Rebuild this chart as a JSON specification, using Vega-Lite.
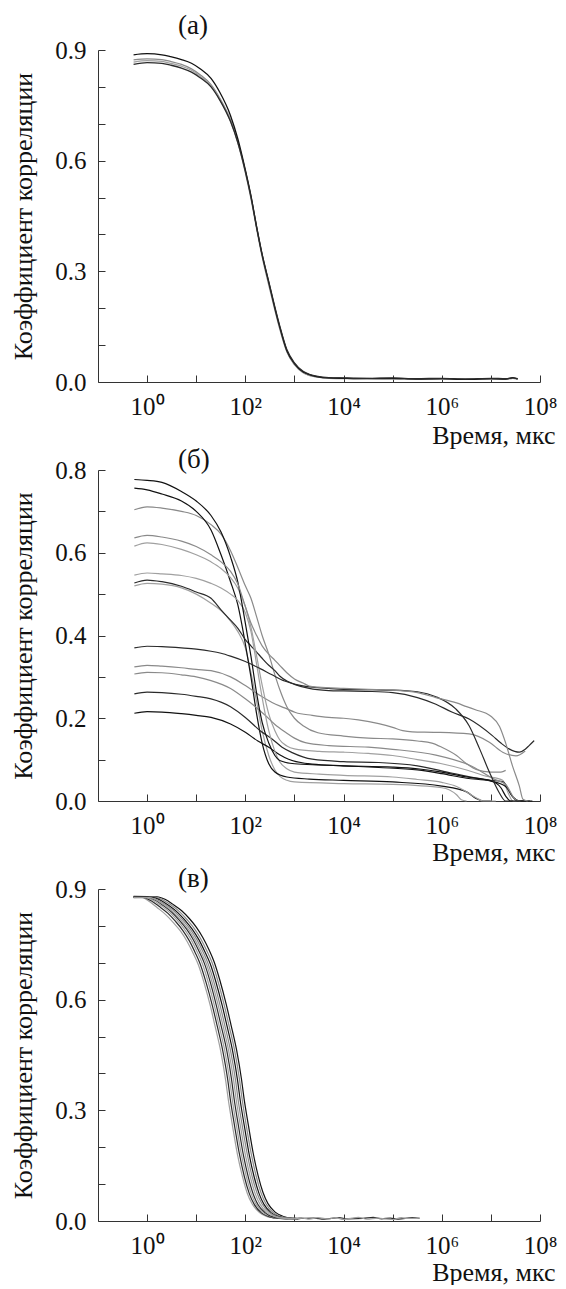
{
"$schema": "https://vega.github.io/schema/vega-lite/v6.json",
"background": "white",
"padding": {"left": 10, "top": 12, "right": 5, "bottom": 0},
"bounds": "flush",
"spacing": 88,
"config": {
 "view": {"stroke": null},
 "font": "Liberation Serif, Times New Roman, serif",
 "style": {"guide-label": {"font": "Liberation Serif, Times New Roman, serif"}, "guide-title": {"font": "Liberation Serif, Times New Roman, serif"}},
 "axis": {"domainColor": "#333", "tickColor": "#333", "tickSize": -7, "labelPadding": 19, "labelFont": "Liberation Serif, Times New Roman, serif", "labelFontSize": 25, "labelColor": "#111", "titleFont": "Liberation Serif, Times New Roman, serif", "titleFontSize": 26, "titleFontWeight": "normal", "titleColor": "#111", "grid": false, "labelFlush": false, "labelOverlap": false},
 "title": {"font": "Liberation Serif, Times New Roman, serif", "fontSize": 27, "fontWeight": "normal", "color": "#111", "anchor": "start", "frame": "group"}
},
"datasets": {
"A": [
{"s":"a2","t":0.53,"r":0.873},{"s":"a2","t":1,"r":0.876},{"s":"a2","t":2,"r":0.874},{"s":"a2","t":3,"r":0.869},{"s":"a2","t":5,"r":0.861},{"s":"a2","t":8,"r":0.849},{"s":"a2","t":12,"r":0.833},{"s":"a2","t":20,"r":0.806},{"s":"a2","t":30,"r":0.77},{"s":"a2","t":50,"r":0.71},{"s":"a2","t":70,"r":0.652},{"s":"a2","t":100,"r":0.57},{"s":"a2","t":130,"r":0.5},{"s":"a2","t":170,"r":0.418},{"s":"a2","t":220,"r":0.342},{"s":"a2","t":300,"r":0.266},{"s":"a2","t":400,"r":0.197},{"s":"a2","t":500,"r":0.147},{"s":"a2","t":700,"r":0.083},{"s":"a2","t":1000,"r":0.048},{"s":"a2","t":1500,"r":0.026},{"s":"a2","t":2000,"r":0.018},{"s":"a2","t":3000,"r":0.013},{"s":"a2","t":5000,"r":0.01},{"s":"a2","t":1e4,"r":0.009},{"s":"a2","t":3e4,"r":0.01},{"s":"a2","t":1e5,"r":0.008},{"s":"a2","t":3e5,"r":0.009},{"s":"a2","t":1e6,"r":0.007},{"s":"a2","t":3e6,"r":0.008},{"s":"a2","t":1e7,"r":0.007},{"s":"a2","t":2e7,"r":0.009},{"s":"a2","t":2.8e7,"r":0.01},{"s":"a2","t":3.5e7,"r":0.009},
{"s":"a3","t":0.53,"r":0.867},{"s":"a3","t":1,"r":0.871},{"s":"a3","t":2,"r":0.869},{"s":"a3","t":3,"r":0.864},{"s":"a3","t":5,"r":0.856},{"s":"a3","t":8,"r":0.845},{"s":"a3","t":12,"r":0.829},{"s":"a3","t":20,"r":0.803},{"s":"a3","t":30,"r":0.767},{"s":"a3","t":50,"r":0.707},{"s":"a3","t":70,"r":0.65},{"s":"a3","t":100,"r":0.568},{"s":"a3","t":130,"r":0.498},{"s":"a3","t":170,"r":0.415},{"s":"a3","t":220,"r":0.34},{"s":"a3","t":300,"r":0.263},{"s":"a3","t":400,"r":0.195},{"s":"a3","t":500,"r":0.145},{"s":"a3","t":700,"r":0.082},{"s":"a3","t":1000,"r":0.047},{"s":"a3","t":1500,"r":0.025},{"s":"a3","t":2000,"r":0.018},{"s":"a3","t":3000,"r":0.013},{"s":"a3","t":5000,"r":0.011},{"s":"a3","t":1e4,"r":0.01},{"s":"a3","t":3e4,"r":0.009},{"s":"a3","t":1e5,"r":0.009},{"s":"a3","t":3e5,"r":0.008},{"s":"a3","t":1e6,"r":0.008},{"s":"a3","t":3e6,"r":0.009},{"s":"a3","t":1e7,"r":0.008},{"s":"a3","t":2e7,"r":0.007},{"s":"a3","t":2.8e7,"r":0.01},{"s":"a3","t":3.5e7,"r":0.008},
{"s":"a1","t":0.53,"r":0.887},{"s":"a1","t":1,"r":0.89},{"s":"a1","t":2,"r":0.887},{"s":"a1","t":3,"r":0.882},{"s":"a1","t":5,"r":0.874},{"s":"a1","t":8,"r":0.864},{"s":"a1","t":12,"r":0.849},{"s":"a1","t":20,"r":0.823},{"s":"a1","t":30,"r":0.786},{"s":"a1","t":50,"r":0.722},{"s":"a1","t":70,"r":0.66},{"s":"a1","t":100,"r":0.575},{"s":"a1","t":130,"r":0.505},{"s":"a1","t":170,"r":0.42},{"s":"a1","t":220,"r":0.345},{"s":"a1","t":300,"r":0.27},{"s":"a1","t":400,"r":0.2},{"s":"a1","t":500,"r":0.15},{"s":"a1","t":700,"r":0.085},{"s":"a1","t":1000,"r":0.05},{"s":"a1","t":1500,"r":0.027},{"s":"a1","t":2000,"r":0.02},{"s":"a1","t":3000,"r":0.014},{"s":"a1","t":5000,"r":0.011},{"s":"a1","t":1e4,"r":0.01},{"s":"a1","t":3e4,"r":0.009},{"s":"a1","t":1e5,"r":0.01},{"s":"a1","t":3e5,"r":0.008},{"s":"a1","t":1e6,"r":0.009},{"s":"a1","t":3e6,"r":0.007},{"s":"a1","t":1e7,"r":0.009},{"s":"a1","t":2e7,"r":0.008},{"s":"a1","t":2.8e7,"r":0.012},{"s":"a1","t":3.5e7,"r":0.008},
{"s":"a4","t":0.53,"r":0.861},{"s":"a4","t":1,"r":0.866},{"s":"a4","t":2,"r":0.864},{"s":"a4","t":3,"r":0.859},{"s":"a4","t":5,"r":0.851},{"s":"a4","t":8,"r":0.84},{"s":"a4","t":12,"r":0.825},{"s":"a4","t":20,"r":0.8},{"s":"a4","t":30,"r":0.765},{"s":"a4","t":50,"r":0.706},{"s":"a4","t":70,"r":0.65},{"s":"a4","t":100,"r":0.572},{"s":"a4","t":130,"r":0.503},{"s":"a4","t":170,"r":0.42},{"s":"a4","t":220,"r":0.346},{"s":"a4","t":300,"r":0.272},{"s":"a4","t":400,"r":0.203},{"s":"a4","t":500,"r":0.153},{"s":"a4","t":700,"r":0.088},{"s":"a4","t":1000,"r":0.052},{"s":"a4","t":1500,"r":0.029},{"s":"a4","t":2000,"r":0.021},{"s":"a4","t":3000,"r":0.015},{"s":"a4","t":5000,"r":0.012},{"s":"a4","t":1e4,"r":0.011},{"s":"a4","t":3e4,"r":0.01},{"s":"a4","t":1e5,"r":0.011},{"s":"a4","t":3e5,"r":0.009},{"s":"a4","t":1e6,"r":0.01},{"s":"a4","t":3e6,"r":0.008},{"s":"a4","t":1e7,"r":0.01},{"s":"a4","t":2e7,"r":0.009},{"s":"a4","t":2.8e7,"r":0.011},{"s":"a4","t":3.5e7,"r":0.009}
],
"B": [
{"s":"b3","t":0.55,"r":0.704},{"s":"b3","t":1,"r":0.711},{"s":"b3","t":2,"r":0.708},{"s":"b3","t":5,"r":0.7},{"s":"b3","t":10,"r":0.69},{"s":"b3","t":20,"r":0.668},{"s":"b3","t":32,"r":0.645},{"s":"b3","t":50,"r":0.605},{"s":"b3","t":70,"r":0.565},{"s":"b3","t":100,"r":0.52},{"s":"b3","t":130,"r":0.49},{"s":"b3","t":170,"r":0.445},{"s":"b3","t":220,"r":0.4},{"s":"b3","t":300,"r":0.355},{"s":"b3","t":400,"r":0.305},{"s":"b3","t":500,"r":0.27},{"s":"b3","t":700,"r":0.228},{"s":"b3","t":1000,"r":0.2},{"s":"b3","t":1500,"r":0.182},{"s":"b3","t":3000,"r":0.165},{"s":"b3","t":1e4,"r":0.157},{"s":"b3","t":3.2e4,"r":0.152},{"s":"b3","t":1e5,"r":0.15},{"s":"b3","t":3.2e5,"r":0.145},{"s":"b3","t":6.3e5,"r":0.14},{"s":"b3","t":1e6,"r":0.13},{"s":"b3","t":2e6,"r":0.11},{"s":"b3","t":3.2e6,"r":0.09},{"s":"b3","t":5e6,"r":0.076},{"s":"b3","t":1e7,"r":0.07},{"s":"b3","t":1.6e7,"r":0.07},{"s":"b3","t":2e7,"r":0.074},
{"s":"b13","t":0.55,"r":0.52},{"s":"b13","t":1,"r":0.526},{"s":"b13","t":2,"r":0.524},{"s":"b13","t":5,"r":0.515},{"s":"b13","t":10,"r":0.5},{"s":"b13","t":20,"r":0.478},{"s":"b13","t":32,"r":0.46},{"s":"b13","t":50,"r":0.435},{"s":"b13","t":70,"r":0.41},{"s":"b13","t":100,"r":0.37},{"s":"b13","t":130,"r":0.31},{"s":"b13","t":170,"r":0.24},{"s":"b13","t":220,"r":0.17},{"s":"b13","t":300,"r":0.11},{"s":"b13","t":400,"r":0.075},{"s":"b13","t":500,"r":0.06},{"s":"b13","t":700,"r":0.05},{"s":"b13","t":1000,"r":0.046},{"s":"b13","t":1e4,"r":0.042},{"s":"b13","t":1e5,"r":0.04},{"s":"b13","t":1e6,"r":0.032},{"s":"b13","t":2e6,"r":0.015},{"s":"b13","t":2.5e6,"r":0.003},{"s":"b13","t":3.2e6,"r":0},
{"s":"b2","t":0.55,"r":0.756},{"s":"b2","t":1,"r":0.752},{"s":"b2","t":2,"r":0.742},{"s":"b2","t":5,"r":0.725},{"s":"b2","t":10,"r":0.7},{"s":"b2","t":20,"r":0.655},{"s":"b2","t":32,"r":0.595},{"s":"b2","t":50,"r":0.53},{"s":"b2","t":70,"r":0.475},{"s":"b2","t":100,"r":0.38},{"s":"b2","t":130,"r":0.3},{"s":"b2","t":170,"r":0.21},{"s":"b2","t":220,"r":0.14},{"s":"b2","t":300,"r":0.09},{"s":"b2","t":400,"r":0.07},{"s":"b2","t":700,"r":0.058},{"s":"b2","t":2000,"r":0.053},{"s":"b2","t":1e4,"r":0.05},{"s":"b2","t":1e5,"r":0.046},{"s":"b2","t":1e6,"r":0.036},{"s":"b2","t":3.2e6,"r":0.022},{"s":"b2","t":5e6,"r":0.006},{"s":"b2","t":7e6,"r":0},{"s":"b2","t":1e7,"r":0},
{"s":"b7","t":0.55,"r":0.527},{"s":"b7","t":1,"r":0.534},{"s":"b7","t":2,"r":0.53},{"s":"b7","t":5,"r":0.519},{"s":"b7","t":10,"r":0.505},{"s":"b7","t":20,"r":0.49},{"s":"b7","t":32,"r":0.462},{"s":"b7","t":50,"r":0.437},{"s":"b7","t":70,"r":0.418},{"s":"b7","t":100,"r":0.39},{"s":"b7","t":130,"r":0.375},{"s":"b7","t":170,"r":0.36},{"s":"b7","t":220,"r":0.345},{"s":"b7","t":300,"r":0.328},{"s":"b7","t":400,"r":0.315},{"s":"b7","t":500,"r":0.302},{"s":"b7","t":700,"r":0.29},{"s":"b7","t":1000,"r":0.282},{"s":"b7","t":2000,"r":0.272},{"s":"b7","t":5000,"r":0.267},{"s":"b7","t":1e4,"r":0.266},{"s":"b7","t":3.2e4,"r":0.265},{"s":"b7","t":1e5,"r":0.262},{"s":"b7","t":3.2e5,"r":0.25},{"s":"b7","t":7.6e5,"r":0.234},{"s":"b7","t":1.6e6,"r":0.215},{"s":"b7","t":3.6e6,"r":0.198},{"s":"b7","t":1.07e7,"r":0.158},{"s":"b7","t":1.6e7,"r":0.14},{"s":"b7","t":2.34e7,"r":0.126},{"s":"b7","t":3.8e7,"r":0.118},{"s":"b7","t":5e7,"r":0.125},{"s":"b7","t":6e7,"r":0.134},{"s":"b7","t":7.6e7,"r":0.146},
{"s":"b9","t":0.55,"r":0.324},{"s":"b9","t":1,"r":0.328},{"s":"b9","t":2,"r":0.326},{"s":"b9","t":5,"r":0.322},{"s":"b9","t":10,"r":0.318},{"s":"b9","t":20,"r":0.315},{"s":"b9","t":50,"r":0.3},{"s":"b9","t":100,"r":0.279},{"s":"b9","t":200,"r":0.255},{"s":"b9","t":350,"r":0.238},{"s":"b9","t":630,"r":0.225},{"s":"b9","t":1050,"r":0.214},{"s":"b9","t":2300,"r":0.207},{"s":"b9","t":5000,"r":0.202},{"s":"b9","t":1e4,"r":0.2},{"s":"b9","t":2e4,"r":0.196},{"s":"b9","t":5.2e4,"r":0.187},{"s":"b9","t":1e5,"r":0.178},{"s":"b9","t":1.6e5,"r":0.17},{"s":"b9","t":2.5e5,"r":0.167},{"s":"b9","t":7.6e5,"r":0.166},{"s":"b9","t":3.6e6,"r":0.162},{"s":"b9","t":9.3e6,"r":0.142},{"s":"b9","t":1.74e7,"r":0.118},{"s":"b9","t":3.24e7,"r":0.109},{"s":"b9","t":5e7,"r":0.121},
{"s":"b5","t":0.55,"r":0.616},{"s":"b5","t":1,"r":0.624},{"s":"b5","t":2,"r":0.62},{"s":"b5","t":5,"r":0.608},{"s":"b5","t":10,"r":0.595},{"s":"b5","t":20,"r":0.578},{"s":"b5","t":32,"r":0.562},{"s":"b5","t":50,"r":0.54},{"s":"b5","t":70,"r":0.515},{"s":"b5","t":100,"r":0.47},{"s":"b5","t":130,"r":0.42},{"s":"b5","t":170,"r":0.35},{"s":"b5","t":220,"r":0.28},{"s":"b5","t":300,"r":0.21},{"s":"b5","t":400,"r":0.17},{"s":"b5","t":500,"r":0.148},{"s":"b5","t":700,"r":0.133},{"s":"b5","t":1000,"r":0.126},{"s":"b5","t":3200,"r":0.12},{"s":"b5","t":1e4,"r":0.118},{"s":"b5","t":3.2e4,"r":0.115},{"s":"b5","t":1e5,"r":0.11},{"s":"b5","t":3.2e5,"r":0.1},{"s":"b5","t":1e6,"r":0.09},{"s":"b5","t":3.2e6,"r":0.075},{"s":"b5","t":8e6,"r":0.06},{"s":"b5","t":1.74e7,"r":0.05},{"s":"b5","t":2.24e7,"r":0.02},{"s":"b5","t":2.8e7,"r":0},{"s":"b5","t":5e7,"r":0},
{"s":"b12","t":0.55,"r":0.212},{"s":"b12","t":1,"r":0.216},{"s":"b12","t":2,"r":0.215},{"s":"b12","t":5,"r":0.211},{"s":"b12","t":10,"r":0.207},{"s":"b12","t":20,"r":0.202},{"s":"b12","t":50,"r":0.186},{"s":"b12","t":100,"r":0.166},{"s":"b12","t":180,"r":0.145},{"s":"b12","t":300,"r":0.13},{"s":"b12","t":500,"r":0.112},{"s":"b12","t":760,"r":0.101},{"s":"b12","t":2300,"r":0.089},{"s":"b12","t":1e4,"r":0.085},{"s":"b12","t":5.2e4,"r":0.081},{"s":"b12","t":3.2e5,"r":0.075},{"s":"b12","t":1e6,"r":0.066},{"s":"b12","t":3.2e6,"r":0.055},{"s":"b12","t":1e7,"r":0.048},{"s":"b12","t":2e7,"r":0.035},{"s":"b12","t":2.8e7,"r":0.01},{"s":"b12","t":4e7,"r":0},{"s":"b12","t":7e7,"r":0},
{"s":"b11","t":0.55,"r":0.259},{"s":"b11","t":1,"r":0.263},{"s":"b11","t":2,"r":0.262},{"s":"b11","t":5,"r":0.258},{"s":"b11","t":10,"r":0.253},{"s":"b11","t":20,"r":0.247},{"s":"b11","t":50,"r":0.228},{"s":"b11","t":100,"r":0.202},{"s":"b11","t":200,"r":0.17},{"s":"b11","t":350,"r":0.15},{"s":"b11","t":560,"r":0.13},{"s":"b11","t":900,"r":0.117},{"s":"b11","t":2300,"r":0.101},{"s":"b11","t":1e4,"r":0.095},{"s":"b11","t":5.2e4,"r":0.093},{"s":"b11","t":3.2e5,"r":0.085},{"s":"b11","t":1.66e6,"r":0.067},{"s":"b11","t":8e6,"r":0.051},{"s":"b11","t":1.74e7,"r":0.047},{"s":"b11","t":2.8e7,"r":0.01},{"s":"b11","t":3.55e7,"r":0},{"s":"b11","t":6.3e7,"r":0},
{"s":"b10","t":0.55,"r":0.307},{"s":"b10","t":1,"r":0.311},{"s":"b10","t":2,"r":0.31},{"s":"b10","t":5,"r":0.305},{"s":"b10","t":10,"r":0.3},{"s":"b10","t":20,"r":0.291},{"s":"b10","t":50,"r":0.272},{"s":"b10","t":100,"r":0.247},{"s":"b10","t":160,"r":0.228},{"s":"b10","t":260,"r":0.206},{"s":"b10","t":400,"r":0.185},{"s":"b10","t":660,"r":0.166},{"s":"b10","t":1000,"r":0.152},{"s":"b10","t":1660,"r":0.141},{"s":"b10","t":5000,"r":0.134},{"s":"b10","t":3.2e4,"r":0.13},{"s":"b10","t":1e5,"r":0.125},{"s":"b10","t":7.6e5,"r":0.111},{"s":"b10","t":3.6e6,"r":0.087},{"s":"b10","t":1.26e7,"r":0.051},{"s":"b10","t":2e7,"r":0.04},{"s":"b10","t":3.2e7,"r":0.003},{"s":"b10","t":4e7,"r":0},
{"s":"b6","t":0.55,"r":0.546},{"s":"b6","t":1,"r":0.551},{"s":"b6","t":2,"r":0.549},{"s":"b6","t":5,"r":0.545},{"s":"b6","t":10,"r":0.538},{"s":"b6","t":20,"r":0.526},{"s":"b6","t":32,"r":0.515},{"s":"b6","t":50,"r":0.5},{"s":"b6","t":70,"r":0.485},{"s":"b6","t":100,"r":0.455},{"s":"b6","t":130,"r":0.41},{"s":"b6","t":170,"r":0.33},{"s":"b6","t":220,"r":0.25},{"s":"b6","t":300,"r":0.17},{"s":"b6","t":400,"r":0.12},{"s":"b6","t":500,"r":0.095},{"s":"b6","t":700,"r":0.078},{"s":"b6","t":1000,"r":0.07},{"s":"b6","t":3200,"r":0.065},{"s":"b6","t":1e4,"r":0.062},{"s":"b6","t":1e5,"r":0.058},{"s":"b6","t":3.2e5,"r":0.052},{"s":"b6","t":1e6,"r":0.045},{"s":"b6","t":2e6,"r":0.035},{"s":"b6","t":3.2e6,"r":0.022},{"s":"b6","t":5e6,"r":0.008},{"s":"b6","t":7e6,"r":0},{"s":"b6","t":1.26e7,"r":0},
{"s":"b1","t":0.55,"r":0.777},{"s":"b1","t":1,"r":0.775},{"s":"b1","t":2,"r":0.77},{"s":"b1","t":5,"r":0.748},{"s":"b1","t":10,"r":0.725},{"s":"b1","t":20,"r":0.69},{"s":"b1","t":32,"r":0.65},{"s":"b1","t":50,"r":0.59},{"s":"b1","t":70,"r":0.53},{"s":"b1","t":100,"r":0.43},{"s":"b1","t":130,"r":0.35},{"s":"b1","t":170,"r":0.26},{"s":"b1","t":220,"r":0.19},{"s":"b1","t":300,"r":0.14},{"s":"b1","t":400,"r":0.11},{"s":"b1","t":500,"r":0.098},{"s":"b1","t":1000,"r":0.09},{"s":"b1","t":3200,"r":0.087},{"s":"b1","t":1e4,"r":0.085},{"s":"b1","t":1e5,"r":0.082},{"s":"b1","t":3.2e5,"r":0.078},{"s":"b1","t":1e6,"r":0.07},{"s":"b1","t":3.2e6,"r":0.058},{"s":"b1","t":1e7,"r":0.049},{"s":"b1","t":1.6e7,"r":0.032},{"s":"b1","t":2e7,"r":0.012},{"s":"b1","t":2.5e7,"r":0},{"s":"b1","t":5e7,"r":0},
{"s":"b8","t":0.55,"r":0.37},{"s":"b8","t":1,"r":0.374},{"s":"b8","t":2,"r":0.373},{"s":"b8","t":5,"r":0.37},{"s":"b8","t":10,"r":0.367},{"s":"b8","t":20,"r":0.362},{"s":"b8","t":32,"r":0.357},{"s":"b8","t":50,"r":0.35},{"s":"b8","t":100,"r":0.337},{"s":"b8","t":200,"r":0.32},{"s":"b8","t":350,"r":0.305},{"s":"b8","t":630,"r":0.29},{"s":"b8","t":1050,"r":0.282},{"s":"b8","t":2300,"r":0.275},{"s":"b8","t":5000,"r":0.272},{"s":"b8","t":1e4,"r":0.27},{"s":"b8","t":3.2e4,"r":0.269},{"s":"b8","t":1e5,"r":0.268},{"s":"b8","t":3.2e5,"r":0.264},{"s":"b8","t":7.6e5,"r":0.252},{"s":"b8","t":1.95e6,"r":0.222},{"s":"b8","t":3.6e6,"r":0.182},{"s":"b8","t":5.9e6,"r":0.126},{"s":"b8","t":9.3e6,"r":0.07},{"s":"b8","t":1.48e7,"r":0.02},{"s":"b8","t":2e7,"r":0},{"s":"b8","t":2.8e7,"r":0},
{"s":"b4","t":0.55,"r":0.636},{"s":"b4","t":1,"r":0.642},{"s":"b4","t":2,"r":0.638},{"s":"b4","t":5,"r":0.628},{"s":"b4","t":10,"r":0.615},{"s":"b4","t":20,"r":0.595},{"s":"b4","t":32,"r":0.578},{"s":"b4","t":50,"r":0.555},{"s":"b4","t":70,"r":0.525},{"s":"b4","t":100,"r":0.47},{"s":"b4","t":130,"r":0.43},{"s":"b4","t":170,"r":0.4},{"s":"b4","t":220,"r":0.375},{"s":"b4","t":300,"r":0.355},{"s":"b4","t":400,"r":0.34},{"s":"b4","t":500,"r":0.328},{"s":"b4","t":700,"r":0.31},{"s":"b4","t":1000,"r":0.295},{"s":"b4","t":1500,"r":0.285},{"s":"b4","t":2000,"r":0.278},{"s":"b4","t":3000,"r":0.275},{"s":"b4","t":1e4,"r":0.272},{"s":"b4","t":3.2e4,"r":0.27},{"s":"b4","t":1e5,"r":0.268},{"s":"b4","t":3.2e5,"r":0.262},{"s":"b4","t":7.6e5,"r":0.25},{"s":"b4","t":2e6,"r":0.237},{"s":"b4","t":3.2e6,"r":0.228},{"s":"b4","t":5e6,"r":0.22},{"s":"b4","t":8e6,"r":0.212},{"s":"b4","t":1e7,"r":0.205},{"s":"b4","t":1.5e7,"r":0.18},{"s":"b4","t":2e7,"r":0.14},{"s":"b4","t":2.75e7,"r":0.085},{"s":"b4","t":3.8e7,"r":0.036},{"s":"b4","t":4.5e7,"r":0.004},{"s":"b4","t":5.6e7,"r":0}
],
"C": [
{"s":"c1","t":0.53,"r":0.879},{"s":"c1","t":0.761,"r":0.878},{"s":"c1","t":1.11,"r":0.866},{"s":"c1","t":1.59,"r":0.85},{"s":"c1","t":2.42,"r":0.83},{"s":"c1","t":3.46,"r":0.808},{"s":"c1","t":4.84,"r":0.785},{"s":"c1","t":6.57,"r":0.757},{"s":"c1","t":8.65,"r":0.726},{"s":"c1","t":11.1,"r":0.694},{"s":"c1","t":14.5,"r":0.645},{"s":"c1","t":19.4,"r":0.583},{"s":"c1","t":24.2,"r":0.528},{"s":"c1","t":31.8,"r":0.458},{"s":"c1","t":40.1,"r":0.378},{"s":"c1","t":45,"r":0.329},{"s":"c1","t":55.4,"r":0.254},{"s":"c1","t":69.2,"r":0.18},{"s":"c1","t":87.2,"r":0.121},{"s":"c1","t":109,"r":0.076},{"s":"c1","t":138,"r":0.046},{"s":"c1","t":194,"r":0.023},{"s":"c1","t":277,"r":0.012},{"s":"c1","t":436,"r":0.008},{"s":"c1","t":692,"r":0.006},
{"s":"c9","t":0.53,"r":0.88},{"s":"c9","t":1.59,"r":0.879},{"s":"c9","t":2.31,"r":0.872},{"s":"c9","t":3.32,"r":0.859},{"s":"c9","t":5.06,"r":0.841},{"s":"c9","t":7.23,"r":0.82},{"s":"c9","t":10.1,"r":0.796},{"s":"c9","t":13.7,"r":0.768},{"s":"c9","t":18.1,"r":0.736},{"s":"c9","t":23.1,"r":0.703},{"s":"c9","t":30.4,"r":0.652},{"s":"c9","t":40.5,"r":0.589},{"s":"c9","t":50.6,"r":0.534},{"s":"c9","t":66.5,"r":0.463},{"s":"c9","t":83.8,"r":0.383},{"s":"c9","t":93.9,"r":0.333},{"s":"c9","t":116,"r":0.258},{"s":"c9","t":145,"r":0.183},{"s":"c9","t":182,"r":0.123},{"s":"c9","t":228,"r":0.078},{"s":"c9","t":289,"r":0.047},{"s":"c9","t":405,"r":0.024},{"s":"c9","t":578,"r":0.013},{"s":"c9","t":910,"r":0.008},{"s":"c9","t":1445,"r":0.007},
{"s":"c2","t":0.53,"r":0.878},{"s":"c2","t":0.835,"r":0.877},{"s":"c2","t":1.21,"r":0.868},{"s":"c2","t":1.75,"r":0.853},{"s":"c2","t":2.66,"r":0.834},{"s":"c2","t":3.8,"r":0.812},{"s":"c2","t":5.31,"r":0.788},{"s":"c2","t":7.21,"r":0.76},{"s":"c2","t":9.49,"r":0.728},{"s":"c2","t":12.1,"r":0.696},{"s":"c2","t":15.9,"r":0.646},{"s":"c2","t":21.3,"r":0.584},{"s":"c2","t":26.6,"r":0.53},{"s":"c2","t":34.9,"r":0.46},{"s":"c2","t":44,"r":0.381},{"s":"c2","t":49.3,"r":0.331},{"s":"c2","t":60.7,"r":0.256},{"s":"c2","t":75.9,"r":0.181},{"s":"c2","t":95.6,"r":0.12},{"s":"c2","t":120,"r":0.075},{"s":"c2","t":152,"r":0.045},{"s":"c2","t":213,"r":0.022},{"s":"c2","t":304,"r":0.012},{"s":"c2","t":478,"r":0.007},{"s":"c2","t":759,"r":0.006},
{"s":"c8","t":0.53,"r":0.879},{"s":"c8","t":1.45,"r":0.878},{"s":"c8","t":2.11,"r":0.87},{"s":"c8","t":3.03,"r":0.857},{"s":"c8","t":4.61,"r":0.838},{"s":"c8","t":6.59,"r":0.816},{"s":"c8","t":9.23,"r":0.792},{"s":"c8","t":12.5,"r":0.764},{"s":"c8","t":16.5,"r":0.732},{"s":"c8","t":21.1,"r":0.7},{"s":"c8","t":27.7,"r":0.65},{"s":"c8","t":36.9,"r":0.587},{"s":"c8","t":46.1,"r":0.532},{"s":"c8","t":60.6,"r":0.462},{"s":"c8","t":76.4,"r":0.382},{"s":"c8","t":85.7,"r":0.332},{"s":"c8","t":105,"r":0.257},{"s":"c8","t":132,"r":0.182},{"s":"c8","t":166,"r":0.122},{"s":"c8","t":208,"r":0.077},{"s":"c8","t":264,"r":0.046},{"s":"c8","t":369,"r":0.023},{"s":"c8","t":527,"r":0.012},{"s":"c8","t":830,"r":0.008},{"s":"c8","t":1318,"r":0.006},
{"s":"c3","t":0.53,"r":0.877},{"s":"c3","t":0.915,"r":0.877},{"s":"c3","t":1.33,"r":0.869},{"s":"c3","t":1.91,"r":0.855},{"s":"c3","t":2.91,"r":0.836},{"s":"c3","t":4.16,"r":0.814},{"s":"c3","t":5.82,"r":0.79},{"s":"c3","t":7.9,"r":0.762},{"s":"c3","t":10.4,"r":0.73},{"s":"c3","t":13.3,"r":0.698},{"s":"c3","t":17.5,"r":0.648},{"s":"c3","t":23.3,"r":0.585},{"s":"c3","t":29.1,"r":0.53},{"s":"c3","t":38.3,"r":0.46},{"s":"c3","t":48.3,"r":0.38},{"s":"c3","t":54.1,"r":0.33},{"s":"c3","t":66.6,"r":0.255},{"s":"c3","t":83.2,"r":0.18},{"s":"c3","t":105,"r":0.12},{"s":"c3","t":131,"r":0.075},{"s":"c3","t":166,"r":0.045},{"s":"c3","t":233,"r":0.022},{"s":"c3","t":333,"r":0.012},{"s":"c3","t":524,"r":0.007},{"s":"c3","t":832,"r":0.006},
{"s":"c7","t":0.53,"r":0.878},{"s":"c7","t":1.32,"r":0.877},{"s":"c7","t":1.92,"r":0.869},{"s":"c7","t":2.77,"r":0.855},{"s":"c7","t":4.21,"r":0.836},{"s":"c7","t":6.01,"r":0.814},{"s":"c7","t":8.41,"r":0.79},{"s":"c7","t":11.4,"r":0.762},{"s":"c7","t":15,"r":0.73},{"s":"c7","t":19.2,"r":0.698},{"s":"c7","t":25.2,"r":0.648},{"s":"c7","t":33.7,"r":0.585},{"s":"c7","t":42.1,"r":0.53},{"s":"c7","t":55.3,"r":0.46},{"s":"c7","t":69.7,"r":0.38},{"s":"c7","t":78.1,"r":0.33},{"s":"c7","t":96.2,"r":0.255},{"s":"c7","t":120,"r":0.18},{"s":"c7","t":151,"r":0.12},{"s":"c7","t":190,"r":0.075},{"s":"c7","t":240,"r":0.045},{"s":"c7","t":337,"r":0.022},{"s":"c7","t":481,"r":0.012},{"s":"c7","t":757,"r":0.007},{"s":"c7","t":1202,"r":0.006},
{"s":"c4","t":0.53,"r":0.877},{"s":"c4","t":1,"r":0.878},{"s":"c4","t":1.46,"r":0.87},{"s":"c4","t":2.1,"r":0.856},{"s":"c4","t":3.19,"r":0.837},{"s":"c4","t":4.56,"r":0.815},{"s":"c4","t":6.38,"r":0.791},{"s":"c4","t":8.66,"r":0.763},{"s":"c4","t":11.4,"r":0.731},{"s":"c4","t":14.6,"r":0.699},{"s":"c4","t":19.2,"r":0.649},{"s":"c4","t":25.5,"r":0.586},{"s":"c4","t":31.9,"r":0.531},{"s":"c4","t":42,"r":0.461},{"s":"c4","t":52.9,"r":0.38},{"s":"c4","t":59.3,"r":0.33},{"s":"c4","t":73,"r":0.255},{"s":"c4","t":91.2,"r":0.179},{"s":"c4","t":115,"r":0.119},{"s":"c4","t":144,"r":0.074},{"s":"c4","t":182,"r":0.044},{"s":"c4","t":255,"r":0.022},{"s":"c4","t":365,"r":0.011},{"s":"c4","t":575,"r":0.007},{"s":"c4","t":912,"r":0.006},{"s":"c4","t":1300,"r":0.007},{"s":"c4","t":2500,"r":0.008},{"s":"c4","t":4000,"r":0.005},{"s":"c4","t":8000,"r":0.009},{"s":"c4","t":1.2e4,"r":0.006},{"s":"c4","t":2.5e4,"r":0.007},{"s":"c4","t":4e4,"r":0.01},{"s":"c4","t":6e4,"r":0.006},{"s":"c4","t":9e4,"r":0.008},{"s":"c4","t":1.3e5,"r":0.005},{"s":"c4","t":2.5e5,"r":0.009},{"s":"c4","t":3.5e5,"r":0.007},
{"s":"c6","t":0.53,"r":0.877},{"s":"c6","t":1.21,"r":0.876},{"s":"c6","t":1.75,"r":0.868},{"s":"c6","t":2.52,"r":0.855},{"s":"c6","t":3.84,"r":0.836},{"s":"c6","t":5.48,"r":0.814},{"s":"c6","t":7.67,"r":0.79},{"s":"c6","t":10.4,"r":0.762},{"s":"c6","t":13.7,"r":0.73},{"s":"c6","t":17.5,"r":0.697},{"s":"c6","t":23,"r":0.647},{"s":"c6","t":30.7,"r":0.584},{"s":"c6","t":38.4,"r":0.529},{"s":"c6","t":50.4,"r":0.459},{"s":"c6","t":63.6,"r":0.379},{"s":"c6","t":71.2,"r":0.329},{"s":"c6","t":87.7,"r":0.254},{"s":"c6","t":110,"r":0.18},{"s":"c6","t":138,"r":0.12},{"s":"c6","t":173,"r":0.076},{"s":"c6","t":219,"r":0.046},{"s":"c6","t":307,"r":0.023},{"s":"c6","t":438,"r":0.012},{"s":"c6","t":691,"r":0.008},{"s":"c6","t":1096,"r":0.007},
{"s":"c5","t":0.53,"r":0.876},{"s":"c5","t":1.1,"r":0.877},{"s":"c5","t":1.6,"r":0.869},{"s":"c5","t":2.3,"r":0.855},{"s":"c5","t":3.5,"r":0.836},{"s":"c5","t":5,"r":0.814},{"s":"c5","t":7,"r":0.79},{"s":"c5","t":9.5,"r":0.762},{"s":"c5","t":12.5,"r":0.73},{"s":"c5","t":16,"r":0.698},{"s":"c5","t":21,"r":0.648},{"s":"c5","t":28,"r":0.585},{"s":"c5","t":35,"r":0.53},{"s":"c5","t":46,"r":0.46},{"s":"c5","t":58,"r":0.38},{"s":"c5","t":65,"r":0.33},{"s":"c5","t":80,"r":0.255},{"s":"c5","t":100,"r":0.18},{"s":"c5","t":126,"r":0.12},{"s":"c5","t":158,"r":0.075},{"s":"c5","t":200,"r":0.045},{"s":"c5","t":280,"r":0.022},{"s":"c5","t":400,"r":0.012},{"s":"c5","t":630,"r":0.007},{"s":"c5","t":1000,"r":0.006},{"s":"c5","t":1500,"r":0.008},{"s":"c5","t":2000,"r":0.005},{"s":"c5","t":3000,"r":0.009},{"s":"c5","t":5000,"r":0.006},{"s":"c5","t":7000,"r":0.009},{"s":"c5","t":1e4,"r":0.004},{"s":"c5","t":1.5e4,"r":0.008},{"s":"c5","t":2e4,"r":0.01},{"s":"c5","t":3e4,"r":0.005},{"s":"c5","t":5e4,"r":0.008},{"s":"c5","t":7e4,"r":0.006},{"s":"c5","t":1e5,"r":0.004},{"s":"c5","t":1.5e5,"r":0.009},{"s":"c5","t":2e5,"r":0.007},{"s":"c5","t":3.6e5,"r":0.008}
]
},
"vconcat": [
{
 "width": 442, "height": 332,
 "title": {"text": "(а)", "dx": 80, "offset": -2},
 "data": {"name": "A"},
 "mark": {"type": "line", "strokeWidth": 1.3, "interpolate": "monotone"},
 "encoding": {
  "x": {"field": "t", "type": "quantitative", "scale": {"type": "log", "domain": [0.1, 100000000], "nice": false},
   "axis": {"values": [1, 10, 100, 1000, 10000, 100000, 1000000, 10000000, 100000000], "labelExpr": "datum.value == 1 ? '10⁰' : datum.value == 100 ? '10²' : datum.value == 10000 ? '10⁴' : datum.value == 1000000 ? '10⁶' : datum.value == 100000000 ? '10⁸' : ''", "title": "Время, мкс", "titleAnchor": "end", "titleAlign": "right", "titleX": 457, "titleY": 61, "titleBaseline": "alphabetic"}},
  "y": {"field": "r", "type": "quantitative", "scale": {"domain": [0, 0.9], "nice": false, "zero": false},
   "axis": {"values": [0, 0.1, 0.2, 0.3, 0.4, 0.5, 0.6, 0.7, 0.8, 0.9], "labelExpr": "round(datum.value * 10) % 3 == 0 ? format(datum.value, '.1f') : ''", "title": "Коэффициент корреляции", "titleX": -75, "titleBaseline": "middle"}},
  "color": {"field": "s", "type": "nominal", "legend": null, "scale": {"domain": ["a2", "a3", "a1", "a4"], "range": ["#8a8a8a", "#a0a0a0", "#111111", "#2a2a2a"]}}
 }
},
{
 "width": 442, "height": 331,
 "title": {"text": "(б)", "dx": 80, "offset": -16},
 "data": {"name": "B"},
 "mark": {"type": "line", "strokeWidth": 1.2, "interpolate": "monotone"},
 "encoding": {
  "x": {"field": "t", "type": "quantitative", "scale": {"type": "log", "domain": [0.1, 100000000], "nice": false},
   "axis": {"values": [1, 10, 100, 1000, 10000, 100000, 1000000, 10000000, 100000000], "labelExpr": "datum.value == 1 ? '10⁰' : datum.value == 100 ? '10²' : datum.value == 10000 ? '10⁴' : datum.value == 1000000 ? '10⁶' : datum.value == 100000000 ? '10⁸' : ''", "title": "Время, мкс", "titleAnchor": "end", "titleAlign": "right", "titleX": 457, "titleY": 59, "titleBaseline": "alphabetic"}},
  "y": {"field": "r", "type": "quantitative", "scale": {"domain": [0, 0.8], "nice": false, "zero": false},
   "axis": {"values": [0, 0.1, 0.2, 0.3, 0.4, 0.5, 0.6, 0.7, 0.8], "labelExpr": "round(datum.value * 10) % 2 == 0 ? format(datum.value, '.1f') : ''", "title": "Коэффициент корреляции", "titleX": -75, "titleBaseline": "middle"}},
  "color": {"field": "s", "type": "nominal", "legend": null, "scale": {"domain": ["b3", "b13", "b2", "b7", "b9", "b5", "b12", "b11", "b10", "b6", "b1", "b8", "b4"], "range": ["#c4c4c4", "#ababab", "#909090", "#8e8e8e", "#8a8a8a", "#7a7a7a", "#747474", "#686868", "#606060", "#6a6a6a", "#626262", "#555555", "#505050"]}}
 }
},
{
 "width": 442, "height": 332,
 "title": {"text": "(в)", "dx": 80, "offset": -16},
 "data": {"name": "C"},
 "mark": {"type": "line", "strokeWidth": 1.2, "interpolate": "monotone"},
 "encoding": {
  "x": {"field": "t", "type": "quantitative", "scale": {"type": "log", "domain": [0.1, 100000000], "nice": false},
   "axis": {"values": [1, 10, 100, 1000, 10000, 100000, 1000000, 10000000, 100000000], "labelExpr": "datum.value == 1 ? '10⁰' : datum.value == 100 ? '10²' : datum.value == 10000 ? '10⁴' : datum.value == 1000000 ? '10⁶' : datum.value == 100000000 ? '10⁸' : ''", "title": "Время, мкс", "titleAnchor": "end", "titleAlign": "right", "titleX": 457, "titleY": 59, "titleBaseline": "alphabetic"}},
  "y": {"field": "r", "type": "quantitative", "scale": {"domain": [0, 0.9], "nice": false, "zero": false},
   "axis": {"values": [0, 0.1, 0.2, 0.3, 0.4, 0.5, 0.6, 0.7, 0.8, 0.9], "labelExpr": "round(datum.value * 10) % 3 == 0 ? format(datum.value, '.1f') : ''", "title": "Коэффициент корреляции", "titleX": -75, "titleBaseline": "middle"}},
  "color": {"field": "s", "type": "nominal", "legend": null, "scale": {"domain": ["c1", "c9", "c2", "c8", "c3", "c7", "c4", "c6", "c5"], "range": ["#c8c8c8", "#bdbdbd", "#9a9a9a", "#8a8a8a", "#6a6a6a", "#5a5a5a", "#3a3a3a", "#3a3a3a", "#1a1a1a"]}}
 }
}
]
}
